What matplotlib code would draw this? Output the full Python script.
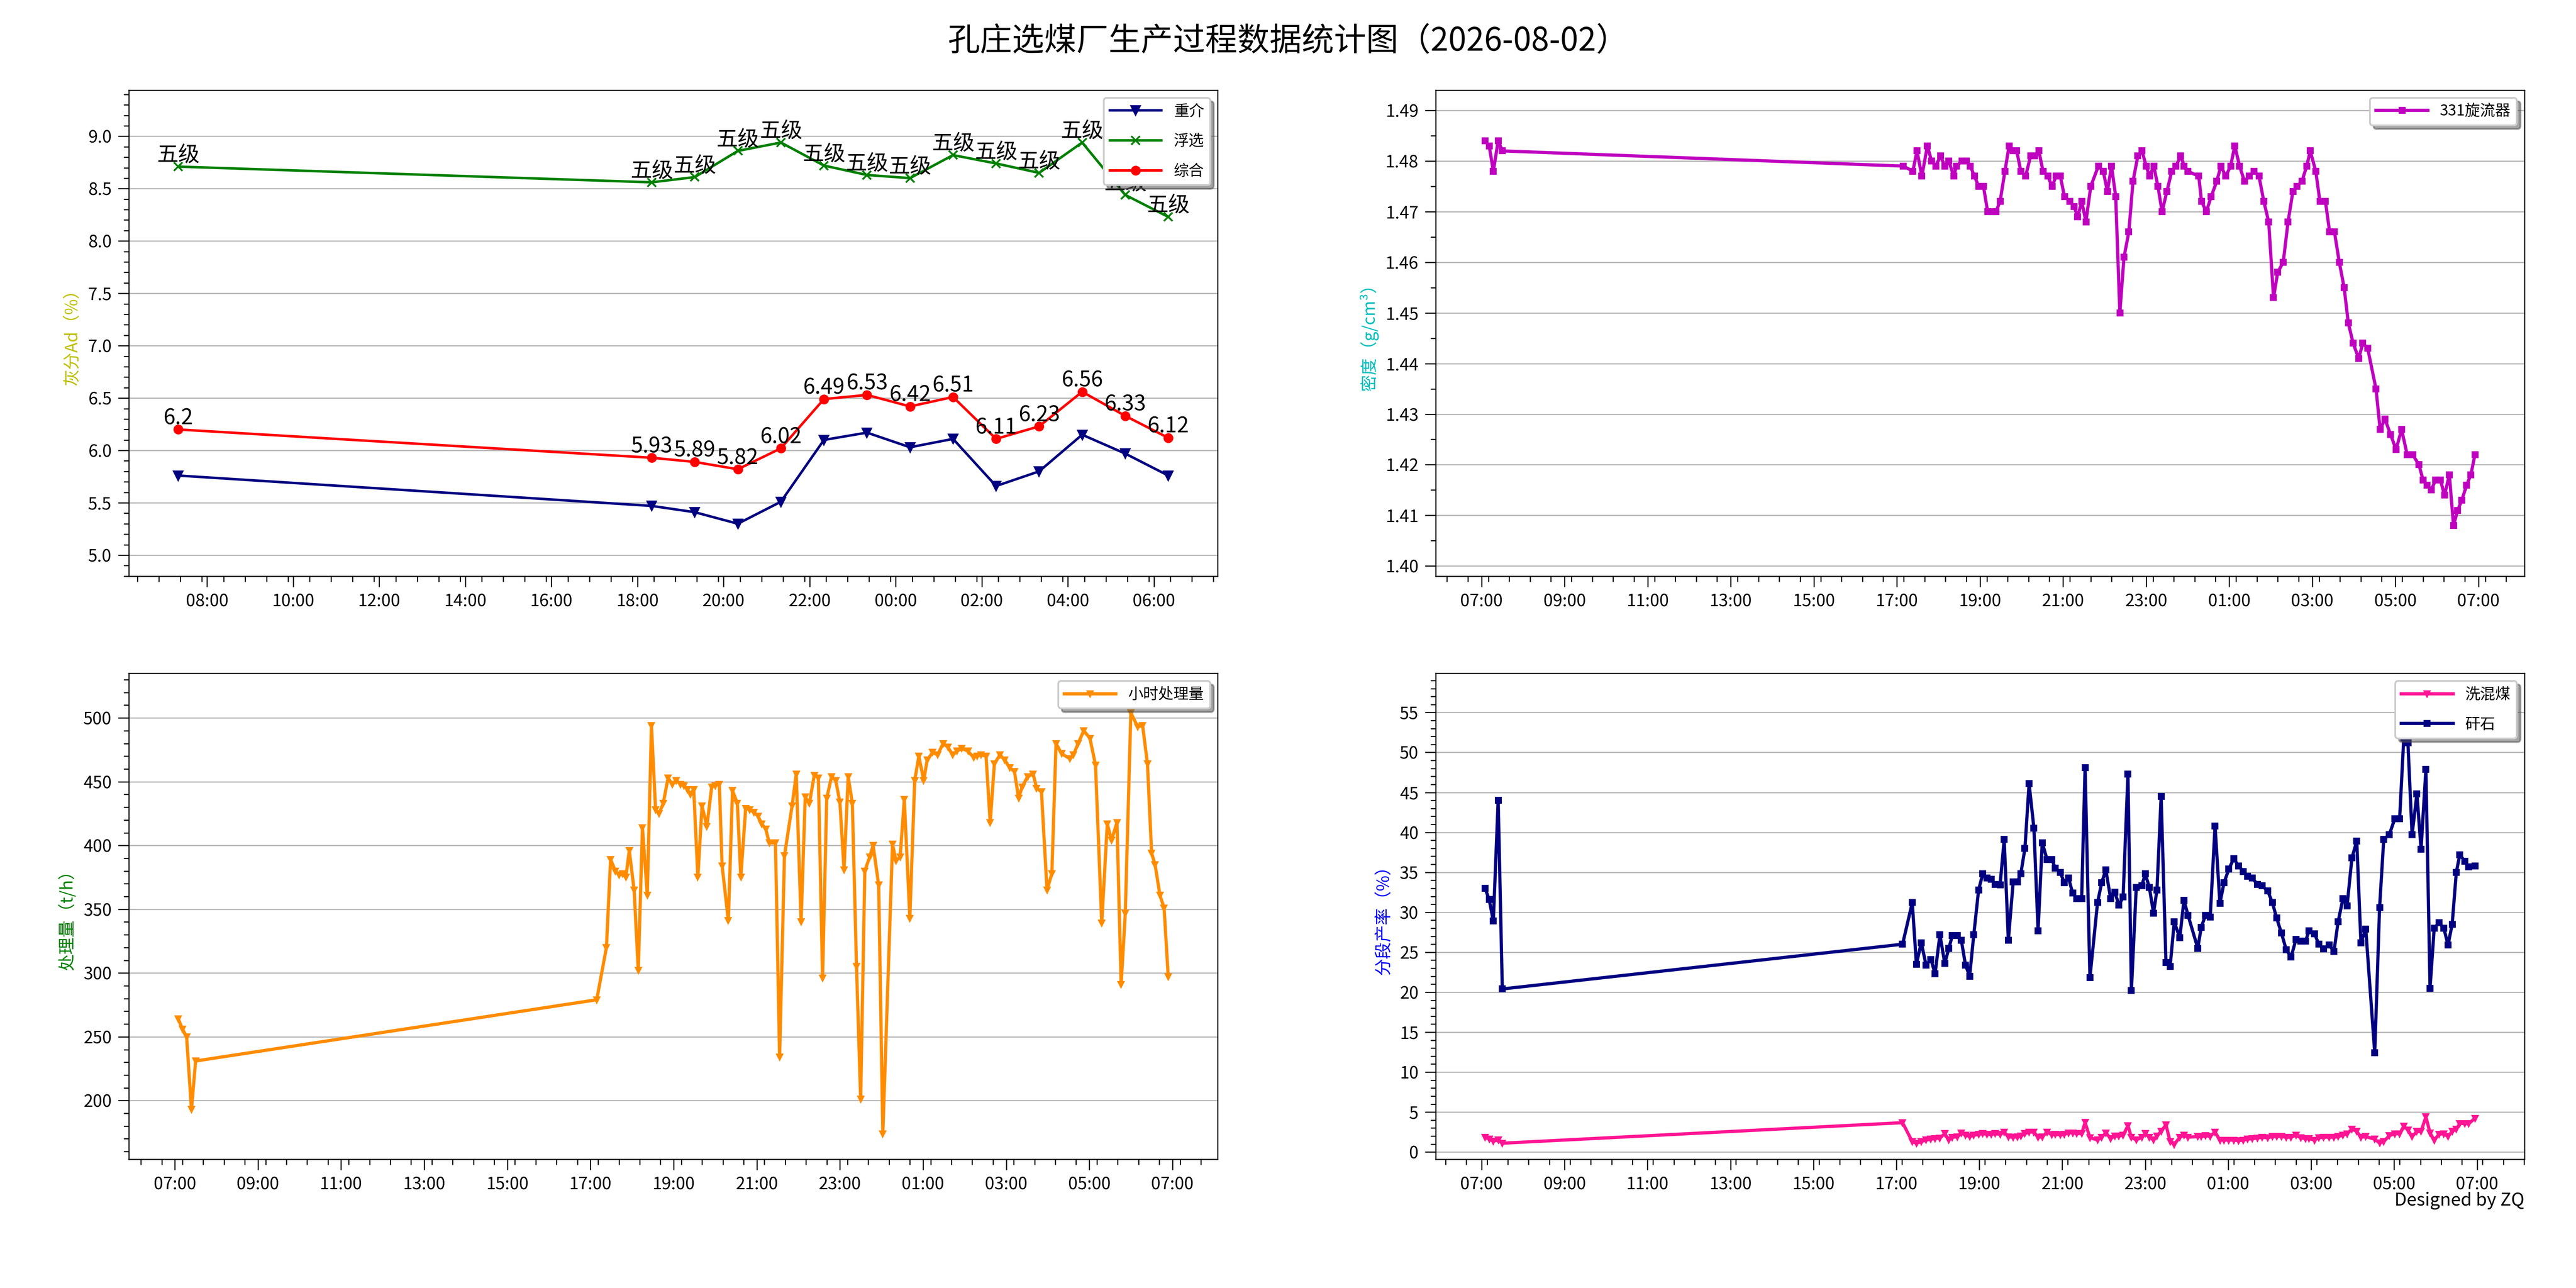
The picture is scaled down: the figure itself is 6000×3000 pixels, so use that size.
import matplotlib
matplotlib.use('Agg')
import matplotlib.pyplot as plt
import matplotlib.dates as mdates
from matplotlib.ticker import MultipleLocator, FormatStrFormatter
import pandas as pd

plt.rcParams['font.family'] = ['Noto Sans CJK SC', 'DejaVu Sans']
plt.rcParams['axes.unicode_minus'] = False

TITLE = '孔庄选煤厂生产过程数据统计图（2026-08-02）'

# ---------------- top-left: hourly ash (灰分) ----------------
ash_times = ['2026-08-01 07:20', '2026-08-01 18:20', '2026-08-01 19:20', '2026-08-01 20:20',
             '2026-08-01 21:20', '2026-08-01 22:20', '2026-08-01 23:20', '2026-08-02 00:20',
             '2026-08-02 01:20', '2026-08-02 02:20', '2026-08-02 03:20', '2026-08-02 04:20',
             '2026-08-02 05:20', '2026-08-02 06:20']
ash_zj = [5.76, 5.47, 5.41, 5.30, 5.51, 6.10, 6.17, 6.03, 6.11, 5.66, 5.80, 6.15, 5.97, 5.76]
ash_fx = [8.71, 8.56, 8.61, 8.86, 8.94, 8.72, 8.63, 8.60, 8.82, 8.74, 8.65, 8.94, 8.44, 8.23]
ash_zh = [6.2, 5.93, 5.89, 5.82, 6.02, 6.49, 6.53, 6.42, 6.51, 6.11, 6.23, 6.56, 6.33, 6.12]
fx_grade = ['五级', '五级', '五级', '五级', '五级', '五级', '五级',
            '五级', '五级', '五级', '五级', '五级', '五级', '五级']

# morning samples: minutes after 07:00 (2026-08-01)
am_min = [5, 11, 17, 24, 30]

# ---------------- top-right: 331 cyclone density ----------------
dens_am = [1.484, 1.483, 1.478, 1.484, 1.482]
dens_pm_min = [9, 23, 29, 36, 44, 50, 56, 63, 69, 75, 82, 86, 94, 100, 106, 112, 118, 125, 131, 138,
               143, 149, 156, 162, 168, 173, 179, 186, 193, 199, 205, 211, 218, 224, 230, 236, 242, 250, 256, 261,
               267, 273, 280, 291, 298, 304, 310, 316, 322, 328, 335, 341, 348, 354, 360, 365, 371, 377, 383, 390,
               397, 403, 410, 415, 420,
               436, 440, 447, 454, 462, 468, 475, 482, 488, 495, 502, 509, 516, 523, 530, 537, 544, 550, 558, 565,
               572, 578, 585, 592, 597, 605, 611, 619, 625, 632, 639, 646, 652, 659, 667, 673, 680, 692, 698, 705,
               713, 721, 729, 737, 745, 754, 760, 766, 772, 778, 785, 791, 798, 804, 810, 816, 823, 829, 835]
dens_pm = [1.479, 1.478, 1.482, 1.477, 1.483, 1.480, 1.479, 1.481, 1.479, 1.480,
           1.477, 1.479, 1.480, 1.480, 1.479, 1.477, 1.475, 1.475, 1.470, 1.470,
           1.470, 1.472, 1.478, 1.483, 1.482, 1.482, 1.478, 1.477, 1.481, 1.481,
           1.482, 1.478, 1.477, 1.475, 1.477, 1.477, 1.473, 1.472, 1.471, 1.469,
           1.472, 1.468, 1.475, 1.479, 1.478, 1.474, 1.479, 1.473, 1.450, 1.461,
           1.466, 1.476, 1.481, 1.482, 1.479, 1.477, 1.479, 1.475, 1.470, 1.474,
           1.478, 1.479, 1.481, 1.479, 1.478,
           1.477, 1.472, 1.470, 1.473, 1.476, 1.479, 1.477, 1.479, 1.483, 1.479,
           1.476, 1.477, 1.478, 1.477, 1.472, 1.468, 1.453, 1.458, 1.460, 1.468,
           1.474, 1.475, 1.476, 1.479, 1.482, 1.478, 1.472, 1.472, 1.466, 1.466,
           1.460, 1.455, 1.448, 1.444, 1.441, 1.444, 1.443, 1.435, 1.427, 1.429,
           1.426, 1.423, 1.427, 1.422, 1.422, 1.420, 1.417, 1.416, 1.415, 1.417,
           1.417, 1.414, 1.418, 1.408, 1.411, 1.413, 1.416, 1.418, 1.422]

# ---------------- bottom-left: hourly throughput ----------------
thr_am = [264, 256, 250, 193, 231]
thr_pm_min = [9, 23, 29, 36, 41, 46, 51, 56, 63, 69, 75, 82, 88, 94, 99, 105, 112, 118, 124, 130,
              135, 140, 144, 149, 155, 161, 168, 175, 180, 186, 190, 199, 205, 212, 217, 224, 230, 236, 242, 247,
              253, 258, 267, 273, 280, 291, 297, 304, 310, 316, 323, 329, 335, 341, 348, 354, 360, 366, 372, 378,
              384, 390, 396, 403, 408, 416, 422,
              436, 441, 447, 453, 461, 468, 474, 481, 486, 494, 501, 509, 516, 523, 529, 536, 545, 553, 558, 564,
              571, 577, 583, 591, 598, 605, 612, 618, 623, 631, 639, 644, 651, 659, 666, 672, 680, 692, 697, 704,
              712, 721, 729, 738, 746, 752, 760, 766, 772, 780, 790, 797, 804, 810, 815, 822, 828, 834]
thr_pm = [279, 320, 389, 380, 377, 378, 375, 396, 365, 302,
          414, 361, 494, 428, 425, 433, 453, 448, 451, 448,
          447, 444, 440, 444, 375, 431, 415, 446, 447, 448,
          384, 341, 443, 433, 375, 429, 428, 426, 423, 417,
          413, 402, 402, 234, 392, 431, 456, 340, 438, 433,
          455, 453, 296, 437, 454, 451, 434, 381, 454, 433,
          305, 201, 380, 391, 400, 369, 174,
          401, 388, 391, 436, 343, 451, 470, 451, 467, 473,
          471, 480, 477, 471, 474, 476, 474, 469, 470, 471,
          470, 418, 464, 471, 467, 461, 458, 437, 446, 454,
          456, 445, 442, 365, 378, 480, 472, 468, 471, 480,
          490, 484, 463, 339, 417, 404, 418, 291, 347, 504,
          493, 494, 464, 394, 385, 361, 351, 297]

# ---------------- bottom-right: segment yields ----------------
mixed_am = [1.85, 1.6, 1.35, 1.5, 1.1]
gangue_am = [33.0, 31.6, 28.9, 44.0, 20.4]
yld_pm_min = [9, 23, 29, 36, 43, 50, 56, 63, 70, 76, 81, 88, 94, 100, 106, 112, 119, 125, 131, 137,
              143, 150, 156, 162, 169, 175, 180, 186, 192, 199, 205, 211, 218, 225, 230, 237, 243, 249, 255, 261,
              268, 273, 280, 291, 297, 303, 310, 316, 322, 328, 335, 340, 347, 355, 360, 366, 372, 377, 383, 390,
              396, 402, 410, 416,
              422, 436, 441, 447, 454, 461, 468, 474, 481, 488, 495, 502, 508, 515, 522, 529, 537, 544, 550, 557,
              564, 571, 578, 585, 592, 597, 605, 611, 618, 626, 633, 639, 646, 652, 659, 666, 672, 679, 692, 699,
              705, 713, 721, 728, 734, 740, 746, 753, 759, 766, 772, 778, 785, 792, 798, 804, 810, 815, 822, 828,
              837]
gangue_pm = [26.0, 31.2, 23.5, 26.2, 23.4, 24.1, 22.3, 27.2, 23.6, 25.5,
             27.1, 27.1, 26.5, 23.4, 22.0, 27.2, 32.8, 34.8, 34.3, 34.1,
             33.5, 33.4, 39.1, 26.5, 33.8, 33.8, 34.8, 38.0, 46.1, 40.5,
             27.7, 38.7, 36.6, 36.6, 35.5, 35.0, 33.7, 34.3, 32.4, 31.7,
             31.7, 48.1, 21.8, 31.2, 33.7, 35.3, 31.7, 32.5, 30.9, 31.9,
             47.3, 20.2, 33.1, 33.3, 34.8, 33.1, 29.9, 32.8, 44.5, 23.7,
             23.2, 28.8, 26.8, 31.5,
             29.6, 25.5, 28.1, 29.6, 29.4, 40.8, 31.1, 33.7, 35.4, 36.7,
             35.8, 35.1, 34.5, 34.3, 33.5, 33.3, 32.7, 31.2, 29.3, 27.4,
             25.3, 24.4, 26.6, 26.4, 26.4, 27.7, 27.3, 26.0, 25.4, 25.9,
             25.1, 28.8, 31.7, 30.8, 36.8, 38.9, 26.2, 27.9, 12.4, 30.6,
             39.1, 39.7, 41.7, 41.7, 51.8, 51.2, 39.7, 44.8, 37.9, 47.9,
             20.5, 28.0, 28.7, 28.0, 25.9, 28.5, 35.0, 37.2, 36.4, 35.7,
             35.8]
mixed_pm = [3.67, 1.3, 1.1, 1.3, 1.5, 1.6, 1.7, 1.75, 2.3, 1.5,
            1.85, 1.9, 2.4, 2.1, 1.95, 2.1, 2.2, 2.3, 2.2, 2.2,
            2.3, 2.2, 2.5, 1.9, 1.85, 1.9, 2.0, 2.3, 2.5, 2.5,
            1.85, 1.9, 2.5, 2.15, 2.2, 2.15, 2.2, 2.4, 2.4, 2.3,
            2.3, 3.7, 1.8, 1.5, 1.85, 2.4, 1.7, 2.0, 2.0, 2.1,
            3.3, 1.85, 1.5, 1.85, 2.3, 1.85, 1.5, 2.0, 2.6, 3.4,
            1.3, 0.95, 1.85, 2.1,
            1.85, 1.93, 1.93, 2.04, 1.96, 2.51, 1.49, 1.49, 1.49, 1.49,
            1.42, 1.49, 1.6, 1.67, 1.75, 1.85, 1.78, 1.93, 1.96, 1.96,
            1.85, 1.85, 2.11, 1.78, 1.67, 1.67, 1.49, 1.78, 1.85, 1.85,
            1.85, 1.93, 2.11, 2.29, 2.87, 2.58, 1.85, 1.93, 1.6, 1.13,
            1.31, 2.04, 2.29, 2.29, 3.24, 2.76, 1.93, 2.58, 2.58, 4.4,
            2.4, 1.49, 2.22, 2.29, 1.93, 2.58, 2.87, 3.56, 3.56, 3.56,
            4.22]


def make_times(pm_minutes):
    am = pd.Timestamp('2026-08-01 07:00') + pd.to_timedelta(am_min, unit='min')
    pm = pd.Timestamp('2026-08-01 17:00') + pd.to_timedelta(pm_minutes, unit='min')
    return am.append(pm)


t_ash = pd.to_datetime(ash_times)
t_dens = make_times(dens_pm_min)
t_thr = make_times(thr_pm_min)
t_yld = make_times(yld_pm_min)

fig, axes = plt.subplots(2, 2, figsize=(20, 10), dpi=300)
fig.subplots_adjust(left=0.05, right=0.98, top=0.93, bottom=0.10, wspace=0.2, hspace=0.2)
fig.suptitle(TITLE, fontsize=18, y=0.968, va='center')

ax1, ax2 = axes[0]
ax3, ax4 = axes[1]

# top-left
ax1.plot(t_ash, ash_zj, color='navy', marker='v', ms=5, lw=1.4, label='重介')
ax1.plot(t_ash, ash_fx, color='green', marker='x', ms=5, lw=1.4, label='浮选')
ax1.plot(t_ash, ash_zh, color='red', marker='o', ms=4.5, lw=1.4, label='综合')
for t, v, g in zip(t_ash, ash_fx, fx_grade):
    ax1.text(t, v, g, ha='center', va='bottom', fontsize=12)
for t, v in zip(t_ash, ash_zh):
    ax1.text(t, v, f'{v:g}', ha='center', va='bottom', fontsize=12)
lo = min(ash_zj + ash_fx + ash_zh)
hi = max(ash_zj + ash_fx + ash_zh)
ax1.set_ylim(lo - 0.5, hi + 0.5)

# top-right
ax2.plot(t_dens, dens_am + dens_pm, color='m', marker='s', ms=2.7, lw=1.8, label='331旋流器')
dv = dens_am + dens_pm
ax2.set_ylim(min(dv) - 0.01, max(dv) + 0.01)

# bottom-left
ax3.plot(t_thr, thr_am + thr_pm, color='darkorange', marker='v', ms=3, lw=1.8, label='小时处理量')
ax3.set_ylim(154, 535)

# bottom-right
ax4.plot(t_yld, mixed_am + mixed_pm, color='deeppink', marker='v', ms=3, lw=1.8, label='洗混煤')
ax4.plot(t_yld, gangue_am + gangue_pm, color='navy', marker='s', ms=3, lw=1.8, label='矸石')
ax4.set_ylim(-0.9, 59.9)


def style(ax, ylabel, ycolor, major, minor, fmt):
    ax.xaxis.set_major_locator(mdates.HourLocator(interval=2))
    ax.xaxis.set_minor_locator(mdates.MinuteLocator(interval=30))
    ax.xaxis.set_major_formatter(mdates.DateFormatter('%H:%M'))
    ax.yaxis.set_major_locator(MultipleLocator(major))
    ax.yaxis.set_minor_locator(MultipleLocator(minor))
    ax.yaxis.set_major_formatter(FormatStrFormatter(fmt))
    ax.grid(axis='y', color='#b0b0b0', lw=0.6)
    ax.set_ylabel(ylabel, color=ycolor, fontsize=9.5)
    ax.tick_params(which='major', length=6, width=0.6, labelsize=9.5)
    ax.tick_params(which='minor', length=3, width=0.6)
    for s in ax.spines.values():
        s.set_linewidth(0.6)
    ax.legend(loc='upper right', shadow=True, fancybox=True, fontsize=8.5,
              handlelength=3.4, labelspacing=0.95)


style(ax1, '灰分Ad（%）', 'y', 0.5, 0.1, '%.1f')
style(ax2, '密度（g/cm³）', 'c', 0.01, 0.005, '%.2f')
style(ax3, '处理量（t/h）', 'g', 50, 10, '%d')
style(ax4, '分段产率（%）', 'b', 5, 1, '%d')

fig.text(0.98, 0.068, 'Designed by ZQ', ha='right', va='center', fontsize=10)

fig.savefig('out.png', dpi=300)
